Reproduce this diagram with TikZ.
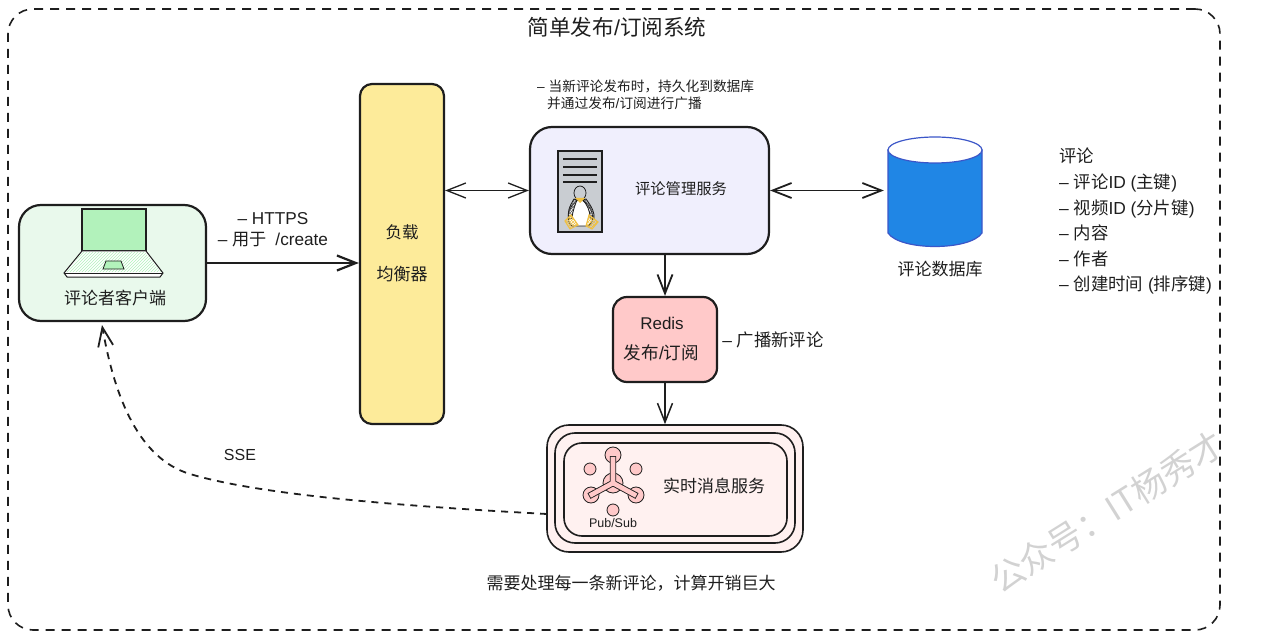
\documentclass[tikz,border=0pt]{standalone}
\usepackage{fontspec}
\setmainfont{Liberation Sans}
\newfontfamily\cjk{Noto Sans CJK SC}
\usetikzlibrary{arrows.meta,patterns}
\definecolor{ink}{HTML}{1E1E1E}
\definecolor{clientfill}{HTML}{E9F9EC}
\definecolor{laptopgreen}{HTML}{B2F2BB}
\definecolor{lbfill}{HTML}{FDEB9A}
\definecolor{mgmtfill}{HTML}{F0EFFD}
\definecolor{serverfill}{HTML}{C9CDD2}
\definecolor{pengold}{HTML}{F0C040}
\definecolor{dbblue}{HTML}{2086E5}
\definecolor{dbedge}{HTML}{3B56C8}
\definecolor{redisfill}{HTML}{FFC9C9}
\definecolor{rtfill}{HTML}{FFF1F0}
\definecolor{markgray}{HTML}{D2D2D2}
\begin{document}
\begin{tikzpicture}[x=1pt,y=-1pt,>={Straight Barb[length=19pt,width=15pt]},
    box/.style={draw=ink,line width=2.2pt,inner sep=0pt},
    txt/.style={font=\fontsize{#1}{#1}\selectfont,text=ink,inner sep=0pt},
    link/.style={draw=ink,line width=1.8pt,line cap=round}]
    \tikzstyle{every node}=[]
    \useasboundingbox (0,0) rectangle (1280,639);
    \node[box,line width=1.6pt,dash pattern=on 9pt off 7pt,rounded corners=25pt,
      minimum width=1212pt,minimum height=621pt] (frame) at (614,319.5) {};
    \node[txt=21.6] (title) at (617,27) {{\cjk 简单发布}/{\cjk 订阅系统}};
    % client
    \node[box,fill=clientfill,rounded corners=22pt,minimum width=187pt,minimum height=116pt] (client) at (112.5,263) {};
    \draw[ink,line width=1.8pt,fill=laptopgreen] (82,209) rectangle (146,251);
    \draw[ink,line width=1pt,fill=white] (82,251) -- (146,251) -- (163,273) -- (160,277) -- (67,277) -- (64,273) -- cycle;
    \fill[pattern=north east lines,pattern color=laptopgreen] (83,252) -- (145,252) -- (161,272) -- (66,272) -- cycle;
    \draw[ink,line width=1pt] (64,273) -- (163,273);
    \draw[ink,line width=0.8pt,fill=laptopgreen] (106,261) -- (121,261) -- (124,269) -- (103,269) -- cycle;
    \node[txt=17] (clientname) at (115,298) {\cjk 评论者客户端};
    \node[txt=17.2] (httpsnote) at (273,219) {– HTTPS};
    \node[txt=17.2] (createnote) at (273,240) {– {\cjk 用于}\hspace{4pt} /create};
    % load balancer
    \node[box,fill=lbfill,rounded corners=12pt,minimum width=84pt,minimum height=340pt] (lb) at (402,254) {};
    \node[txt=16.5] (lbtop) at (402,232) {\cjk 负载};
    \node[txt=17] (lbbottom) at (402,274) {\cjk 均衡器};
    % manager
    \node[txt=13.7,anchor=west] (noteone) at (537,86) {– {\cjk 当新评论发布时，持久化到数据库}};
    \node[txt=13.7,anchor=west] (notetwo) at (547,103) {{\cjk 并通过发布}/{\cjk 订阅进行广播}};
    \node[box,fill=mgmtfill,rounded corners=22pt,minimum width=239pt,minimum height=127pt] (mgmt) at (649.5,190.5) {};
    \draw[ink,line width=1.4pt,fill=serverfill] (558,151) rectangle (602,232);
    \foreach \y in {159,167,175,182}
      \draw[ink,line width=1.3pt] (563,\y) -- (597,\y);
    \draw[ink,line width=0.8pt,fill=white] (580,199) .. controls (566,206) and (566,222) .. (572,226) -- (588,226) .. controls (596,222) and (594,206) .. (580,199) -- cycle;
    \draw[ink,line width=0.8pt,pattern=crosshatch,pattern color=ink!70] (574,199) .. controls (569,207) and (567,213) .. (569,219) -- (572,218) .. controls (573,210) and (575,205) .. (577,200) -- cycle;
    \draw[ink,line width=0.8pt,pattern=crosshatch,pattern color=ink!70] (586,199) .. controls (592,207) and (595,213) .. (594,219) -- (590,218) .. controls (590,210) and (587,205) .. (583,200) -- cycle;
    \draw[ink,line width=0.8pt,fill=serverfill] (580,193) ellipse (6pt and 7pt);
    \fill[pengold] (575,198) -- (585,198) -- (580,203) -- cycle;
    \draw[pengold,line width=1.1pt,pattern=crosshatch,pattern color=pengold] (565,221) -- (571,215) -- (578,225) -- (570,229) -- cycle;
    \draw[pengold,line width=1.1pt,pattern=crosshatch,pattern color=pengold] (586,226) -- (589,215) -- (598,222) -- (592,229) -- cycle;
    \node[txt=15.3] (mgmtname) at (681,189) {\cjk 评论管理服务};
    % database
    \node[inner sep=0pt,minimum width=94pt,minimum height=110pt] (db) at (935,192) {};
    \draw[dbedge,line width=1.2pt,fill=dbblue] (888,150) -- (888,233) .. controls (900,251) and (970,251) .. (982,233) -- (982,150) -- cycle;
    \draw[dbedge,line width=1.2pt,fill=white] (935,150) ellipse (47pt and 13pt);
    \node[txt=17] (dbname) at (940,269) {\cjk 评论数据库};
    % redis
    \node[box,fill=redisfill,rounded corners=14pt,minimum width=104pt,minimum height=85pt] (redis) at (665,339.5) {};
    \node[txt=17] (redisname) at (662,323) {Redis};
    \node[txt=17.6] (redispub) at (661.5,353) {{\cjk 发布}/{\cjk 订阅}};
    \node[txt=17.4] (redisnote) at (773,340) {– {\cjk 广播新评论}};
    % realtime service
    \node[box,line width=1.6pt,fill=rtfill,rounded corners=22pt,minimum width=256pt,minimum height=127pt] (rtouter) at (675,488.5) {};
    \node[box,line width=1.6pt,fill=rtfill,rounded corners=20pt,minimum width=240pt,minimum height=110pt] (rtmiddle) at (675,488) {};
    \node[box,line width=1.6pt,fill=rtfill,rounded corners=18pt,minimum width=223pt,minimum height=93pt] (rtinner) at (675.5,489.5) {};
    \foreach \x/\y/\r in {613/455/8,590/469/6,636/469/6,591/495/8,636/495/8,613/510/6,613/483/10}
      \draw[ink,line width=0.8pt,fill=redisfill] (\x,\y) circle (\r pt);
    \draw[ink,line width=6.4pt] (613,456) -- (613,483) (589,496) -- (613,483) -- (637,496);
    \draw[redisfill,line width=4.6pt] (613,456.8) -- (613,483) (589.8,495.6) -- (613,483) -- (636.2,495.6);
    \node[txt=12.5] (pubsub) at (613,523) {Pub/Sub};
    \node[txt=17] (rtname) at (714,486) {\cjk 实时消息服务};
    \node[txt=17] (costnote) at (631,583) {\cjk 需要处理每一条新评论，计算开销巨大};
    % field list
    \node[txt=17.4,font=\fontsize{17.4}{25.6}\selectfont,align=left,anchor=north west] (fields) at (1059,148)
      {{\cjk 评论}\\
       – {\cjk 评论}ID ({\cjk 主键})\\
       – {\cjk 视频}ID ({\cjk 分片键})\\
       – {\cjk 内容}\\
       – {\cjk 作者}\\
       – {\cjk 创建时间} ({\cjk 排序键})};
    \node[txt=16] (sse) at (240,455) {SSE};
    \node[txt=34,text=markgray,rotate=32,font=\cjk\fontsize{34}{34}\selectfont] (mark) at (1107,512) {公众号：IT杨秀才};
    % connectors
    \coordinate (ssefrom) at (547,514);
    \coordinate (ssebend) at (190,474);
    \coordinate (sseto) at (102,325);
    \draw[link,line width=2.2pt,->] (client.east) -- (client.east -| lb.west);
    \draw[link,line width=1.3pt,<->] (mgmt.west -| lb.east) -- (mgmt.west);
    \draw[link,<->] (mgmt.east) -- ([xshift=-4pt]mgmt.east -| db.west);
    \draw[link,->] (redis.north |- mgmt.south) -- (redis.north);
    \draw[link,line width=1.5pt,->] (redis.south) -- (redis.south |- rtouter.north);
    \draw[link,line width=1.8pt,->,dash pattern=on 7pt off 6pt,line cap=butt] (ssefrom) .. controls (400,506) and (260,495) .. (ssebend) .. controls (140,459) and (115,400) .. (sseto);
  \end{tikzpicture}
\end{document}
